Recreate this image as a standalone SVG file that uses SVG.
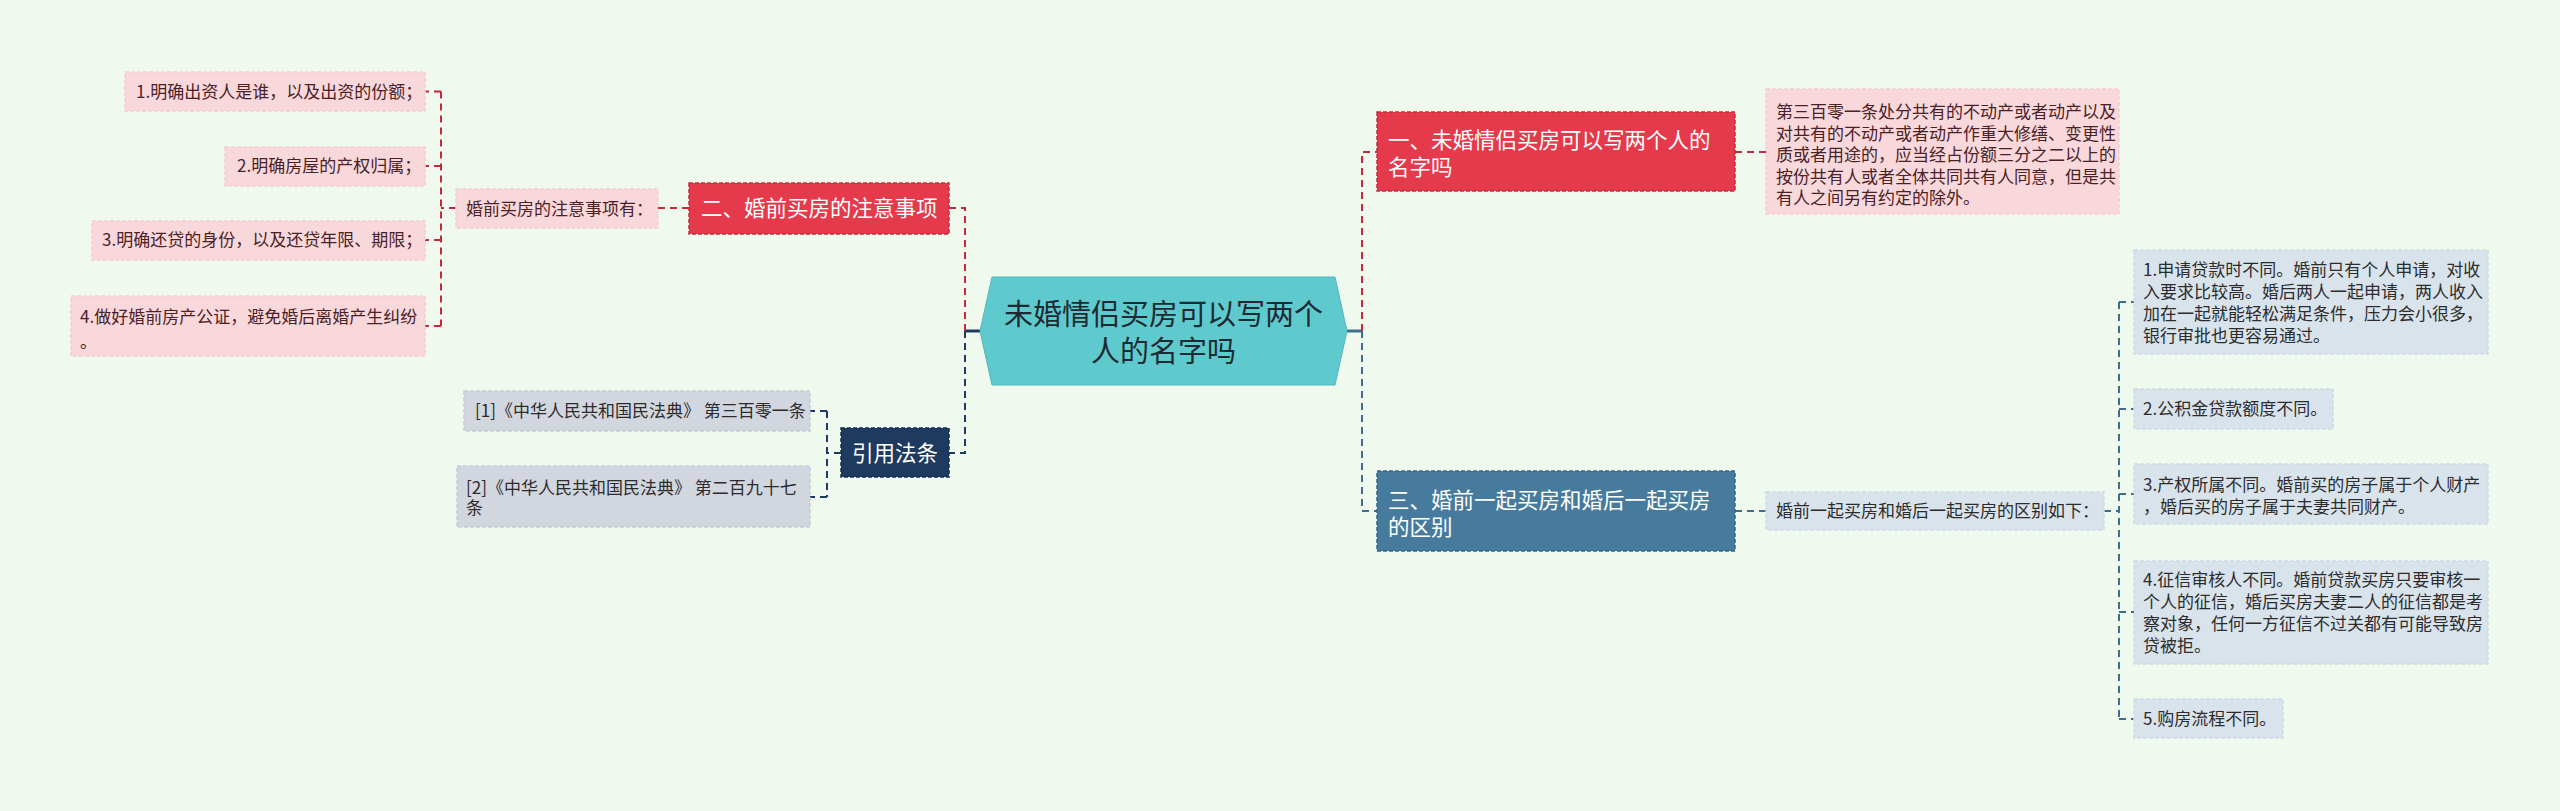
<svg xmlns="http://www.w3.org/2000/svg" width="2560" height="811" viewBox="0 0 2560 811">
<style>
text{font-family:"Noto Sans CJK SC","Noto Sans",sans-serif;}
.lf{font-size:17px;}
.pk{fill:#F9D8DC;stroke:#F5CDD2;stroke-width:1.5;stroke-dasharray:4 2;}
.pkt{fill:#4A2226;}
.bl{fill:#D9E3EC;stroke:#CFDAE5;stroke-width:1.5;stroke-dasharray:4 2;}
.blt{fill:#2C2C2C;}
.gr{fill:#D2D6DE;stroke:#C8CDD6;stroke-width:1.5;stroke-dasharray:4 2;}
.grt{fill:#2C2C2C;}
.main{font-size:21.5px;fill:#FFFFFF;}
.red{fill:#E53A4B;stroke:#C42D3E;stroke-width:1.5;stroke-dasharray:4 2;}
.blue{fill:#467B9D;stroke:#36678A;stroke-width:1.5;stroke-dasharray:4 2;}
.navy{fill:#1E3A5E;stroke:#14304F;stroke-width:1.5;stroke-dasharray:4 2;}
.cr{fill:none;stroke:#C8283A;stroke-width:2;stroke-dasharray:7 5;}
.cb{fill:none;stroke:#3E6E8E;stroke-width:2;stroke-dasharray:7 5;}
.cn{fill:none;stroke:#1E3A5E;stroke-width:2;stroke-dasharray:7 5;}
</style>
<rect x="0" y="0" width="2560" height="811" fill="#EFF9EE"/>
<g id="connectors">
<line x1="980" y1="331" x2="965" y2="331" stroke="#1E3A5E" stroke-width="3"/>
<line x1="1347" y1="331" x2="1362" y2="331" stroke="#3E6E8E" stroke-width="3"/>
<path class="cr" d="M965 331 V208 H949"/>
<path class="cr" d="M689 208 H658"/>
<path class="cr" d="M456 208 H441"/>
<path class="cr" d="M441 91.5 V326"/>
<path class="cr" d="M441 91.5 H425 M441 166 H425 M441 240 H425 M441 326 H425"/>
<path class="cn" d="M965 331 V453 H949"/>
<path class="cn" d="M841 453 H827"/>
<path class="cn" d="M827 411 V497"/>
<path class="cn" d="M827 411 H810 M827 497 H810"/>
<path class="cr" d="M1362 331 V152 H1377"/>
<path class="cr" d="M1735 152 H1766"/>
<path class="cb" d="M1362 331 V511 H1377"/>
<path class="cb" d="M1735 511 H1766"/>
<path class="cb" d="M2104 511 H2119"/>
<path class="cb" d="M2119 302 V719"/>
<path class="cb" d="M2119 302 H2134 M2119 409 H2134 M2119 494 H2134 M2119 612 H2134 M2119 719 H2134"/>
</g>
<g id="center">
<polygon points="980,331 992,277 1335,277 1347,331 1335,385 992,385" fill="#5FCACD" stroke="#4FB8BB" stroke-width="1"/>
<text x="1163.5" y="325" font-size="29" fill="#1E2A33" text-anchor="middle">未婚情侣买房可以写两个</text>
<text x="1163.5" y="362" font-size="29" fill="#1E2A33" text-anchor="middle">人的名字吗</text>
</g>
<g id="node-2">
<rect class="red" x="689" y="183" width="260" height="51"/>
<text class="main" x="701" y="215.5">二、婚前买房的注意事项</text>
</g>
<g id="node-2-sub">
<rect class="pk" x="456" y="189" width="202" height="39"/>
<text class="lf pkt" x="466" y="214.5">婚前买房的注意事项有：</text>
</g>
<g id="leaf-l1">
<rect class="pk" x="125" y="72" width="300" height="39"/>
<text class="lf pkt" x="136" y="97.5">1.明确出资人是谁，以及出资的份额；</text>
</g>
<g id="leaf-l2">
<rect class="pk" x="225" y="147" width="200" height="39"/>
<text class="lf pkt" x="237" y="172">2.明确房屋的产权归属；</text>
</g>
<g id="leaf-l3">
<rect class="pk" x="92" y="221" width="333" height="39"/>
<text class="lf pkt" x="102" y="246">3.明确还贷的身份，以及还贷年限、期限；</text>
</g>
<g id="leaf-l4">
<rect class="pk" x="71" y="296" width="354" height="60"/>
<text class="lf pkt" x="80" y="323">4.做好婚前房产公证，避免婚后离婚产生纠纷</text>
<text class="lf pkt" x="80" y="348">。</text>
</g>
<g id="node-ref">
<rect class="navy" x="841" y="428" width="108" height="49"/>
<text class="main" x="895" y="460.5" text-anchor="middle">引用法条</text>
</g>
<g id="ref-1">
<rect class="gr" x="464" y="391" width="346" height="40"/>
<text class="lf grt" x="475" y="417">[1]《中华人民共和国民法典》 第三百零一条</text>
</g>
<g id="ref-2">
<rect class="gr" x="457" y="466" width="353" height="61"/>
<text class="lf grt" x="466" y="494">[2]《中华人民共和国民法典》 第二百九十七</text>
<text class="lf grt" x="466" y="514">条</text>
</g>
<g id="node-1">
<rect class="red" x="1377" y="112" width="358" height="79"/>
<text class="main" x="1388" y="147.5">一、未婚情侣买房可以写两个人的</text>
<text class="main" x="1388" y="174.5">名字吗</text>
</g>
<g id="node-1-text">
<rect class="pk" x="1766" y="89" width="353" height="125"/>
<text class="lf pkt" x="1776" y="118">第三百零一条处分共有的不动产或者动产以及</text>
<text class="lf pkt" x="1776" y="139.5">对共有的不动产或者动产作重大修缮、变更性</text>
<text class="lf pkt" x="1776" y="161">质或者用途的，应当经占份额三分之二以上的</text>
<text class="lf pkt" x="1776" y="182.5">按份共有人或者全体共同共有人同意，但是共</text>
<text class="lf pkt" x="1776" y="204">有人之间另有约定的除外。</text>
</g>
<g id="node-3">
<rect class="blue" x="1377" y="471" width="358" height="80"/>
<text class="main" x="1388" y="507.5">三、婚前一起买房和婚后一起买房</text>
<text class="main" x="1388" y="534.5">的区别</text>
</g>
<g id="node-3-sub">
<rect class="bl" x="1766" y="492" width="338" height="38"/>
<text class="lf blt" x="1776" y="517">婚前一起买房和婚后一起买房的区别如下：</text>
</g>
<g id="leaf-r1">
<rect class="bl" x="2134" y="250" width="354" height="104"/>
<text class="lf blt" x="2143" y="276">1.申请贷款时不同。婚前只有个人申请，对收</text>
<text class="lf blt" x="2143" y="298">入要求比较高。婚后两人一起申请，两人收入</text>
<text class="lf blt" x="2143" y="320">加在一起就能轻松满足条件，压力会小很多，</text>
<text class="lf blt" x="2143" y="342">银行审批也更容易通过。</text>
</g>
<g id="leaf-r2">
<rect class="bl" x="2134" y="389" width="199" height="40"/>
<text class="lf blt" x="2143" y="415">2.公积金贷款额度不同。</text>
</g>
<g id="leaf-r3">
<rect class="bl" x="2134" y="464" width="354" height="60"/>
<text class="lf blt" x="2143" y="491">3.产权所属不同。婚前买的房子属于个人财产</text>
<text class="lf blt" x="2143" y="513">，婚后买的房子属于夫妻共同财产。</text>
</g>
<g id="leaf-r4">
<rect class="bl" x="2134" y="561" width="354" height="103"/>
<text class="lf blt" x="2143" y="586">4.征信审核人不同。婚前贷款买房只要审核一</text>
<text class="lf blt" x="2143" y="608">个人的征信，婚后买房夫妻二人的征信都是考</text>
<text class="lf blt" x="2143" y="630">察对象，任何一方征信不过关都有可能导致房</text>
<text class="lf blt" x="2143" y="652">贷被拒。</text>
</g>
<g id="leaf-r5">
<rect class="bl" x="2134" y="699" width="149" height="39"/>
<text class="lf blt" x="2143" y="725">5.购房流程不同。</text>
</g>
</svg>
